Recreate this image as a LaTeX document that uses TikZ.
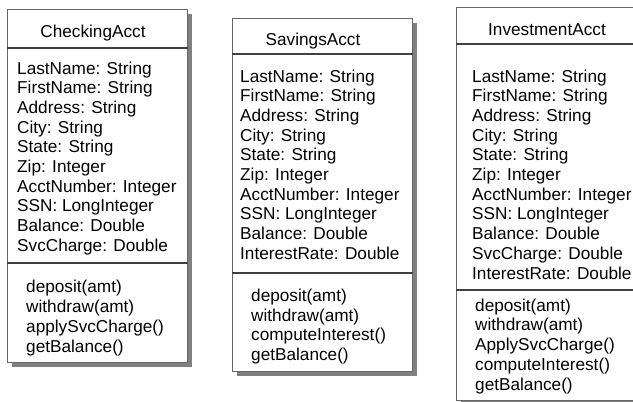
\documentclass[tikz,border=0pt]{standalone}
\usepackage{fontspec}
\setmainfont{Liberation Sans}
\usetikzlibrary{shadows}

\tikzset{
    classbox/.style={draw=black!60, line width=0.9pt, fill=white, anchor=north west,
        inner sep=0pt, minimum width=180pt,
        drop shadow={shadow xshift=5pt, shadow yshift=-5pt, fill=black!50, opacity=1}},
    divider/.style={draw=black!75, line width=1.4pt},
    classname/.style={anchor=base, inner sep=0pt, font=\fontsize{17.2}{19.7}\selectfont},
    % base anchor sits on the last line
    members/.style={anchor=base west, align=left, inner sep=0pt, font=\fontsize{17.2}{19.7}\selectfont}
}

\begin{document}
\begin{tikzpicture}[x=1pt, y=-1pt]
            \useasboundingbox (0, 0) rectangle (633, 402);
            \clip (0, 0) rectangle (633, 402);

            \node[classbox, minimum height=353pt] (check) at (7, 9) {};
            \node[classbox, minimum height=353pt] (save) at (232, 18) {};
            \node[classbox, minimum height=393pt] (invest) at (456, 7) {};

            \node[classname] (checkname) at (93, 37) { CheckingAcct };
            \node[classname] (savename) at (313, 45) { SavingsAcct };
            \node[classname] (investname) at (547, 35) { InvestmentAcct };

            \node[members] (checkattr) at (17, 251.3) {LastName: String\\FirstName: String\\Address: String\\City: String\\State: String\\Zip: Integer\\AcctNumber: Integer\\SSN: LongInteger\\Balance: Double\\SvcCharge: Double};
            \node[members] (checkops) at (26, 352) {deposit(amt)\\withdraw(amt)\\applySvcCharge()\\getBalance()};

            \node[members] (saveattr) at (240, 259.3) {LastName: String\\FirstName: String\\Address: String\\City: String\\State: String\\Zip: Integer\\AcctNumber: Integer\\SSN: LongInteger\\Balance: Double\\InterestRate: Double};
            \node[members] (saveops) at (251, 360.5) {deposit(amt)\\withdraw(amt)\\computeInterest()\\getBalance()};

            \node[members] (investattr) at (472, 279) {LastName: String\\FirstName: String\\Address: String\\City: String\\State: String\\Zip: Integer\\AcctNumber: Integer\\SSN: LongInteger\\Balance: Double\\SvcCharge: Double\\InterestRate: Double};
            \node[members] (investops) at (475, 390) {deposit(amt)\\withdraw(amt)\\ApplySvcCharge()\\computeInterest()\\getBalance()};

            \draw[divider] ([yshift=-39pt]check.north west) -- ([yshift=-39pt]check.north east);
            \draw[divider] ([yshift=-254pt]check.north west) -- ([yshift=-254pt]check.north east);
            \draw[divider] ([yshift=-36pt]save.north west) -- ([yshift=-36pt]save.north east);
            \draw[divider] ([yshift=-255pt]save.north west) -- ([yshift=-255pt]save.north east);
            \draw[divider] ([yshift=-37pt]invest.north west) -- ([yshift=-37pt]invest.north east);
            \draw[divider] ([yshift=-283pt]invest.north west) -- ([yshift=-283pt]invest.north east);

        \end{tikzpicture}
\end{document}
